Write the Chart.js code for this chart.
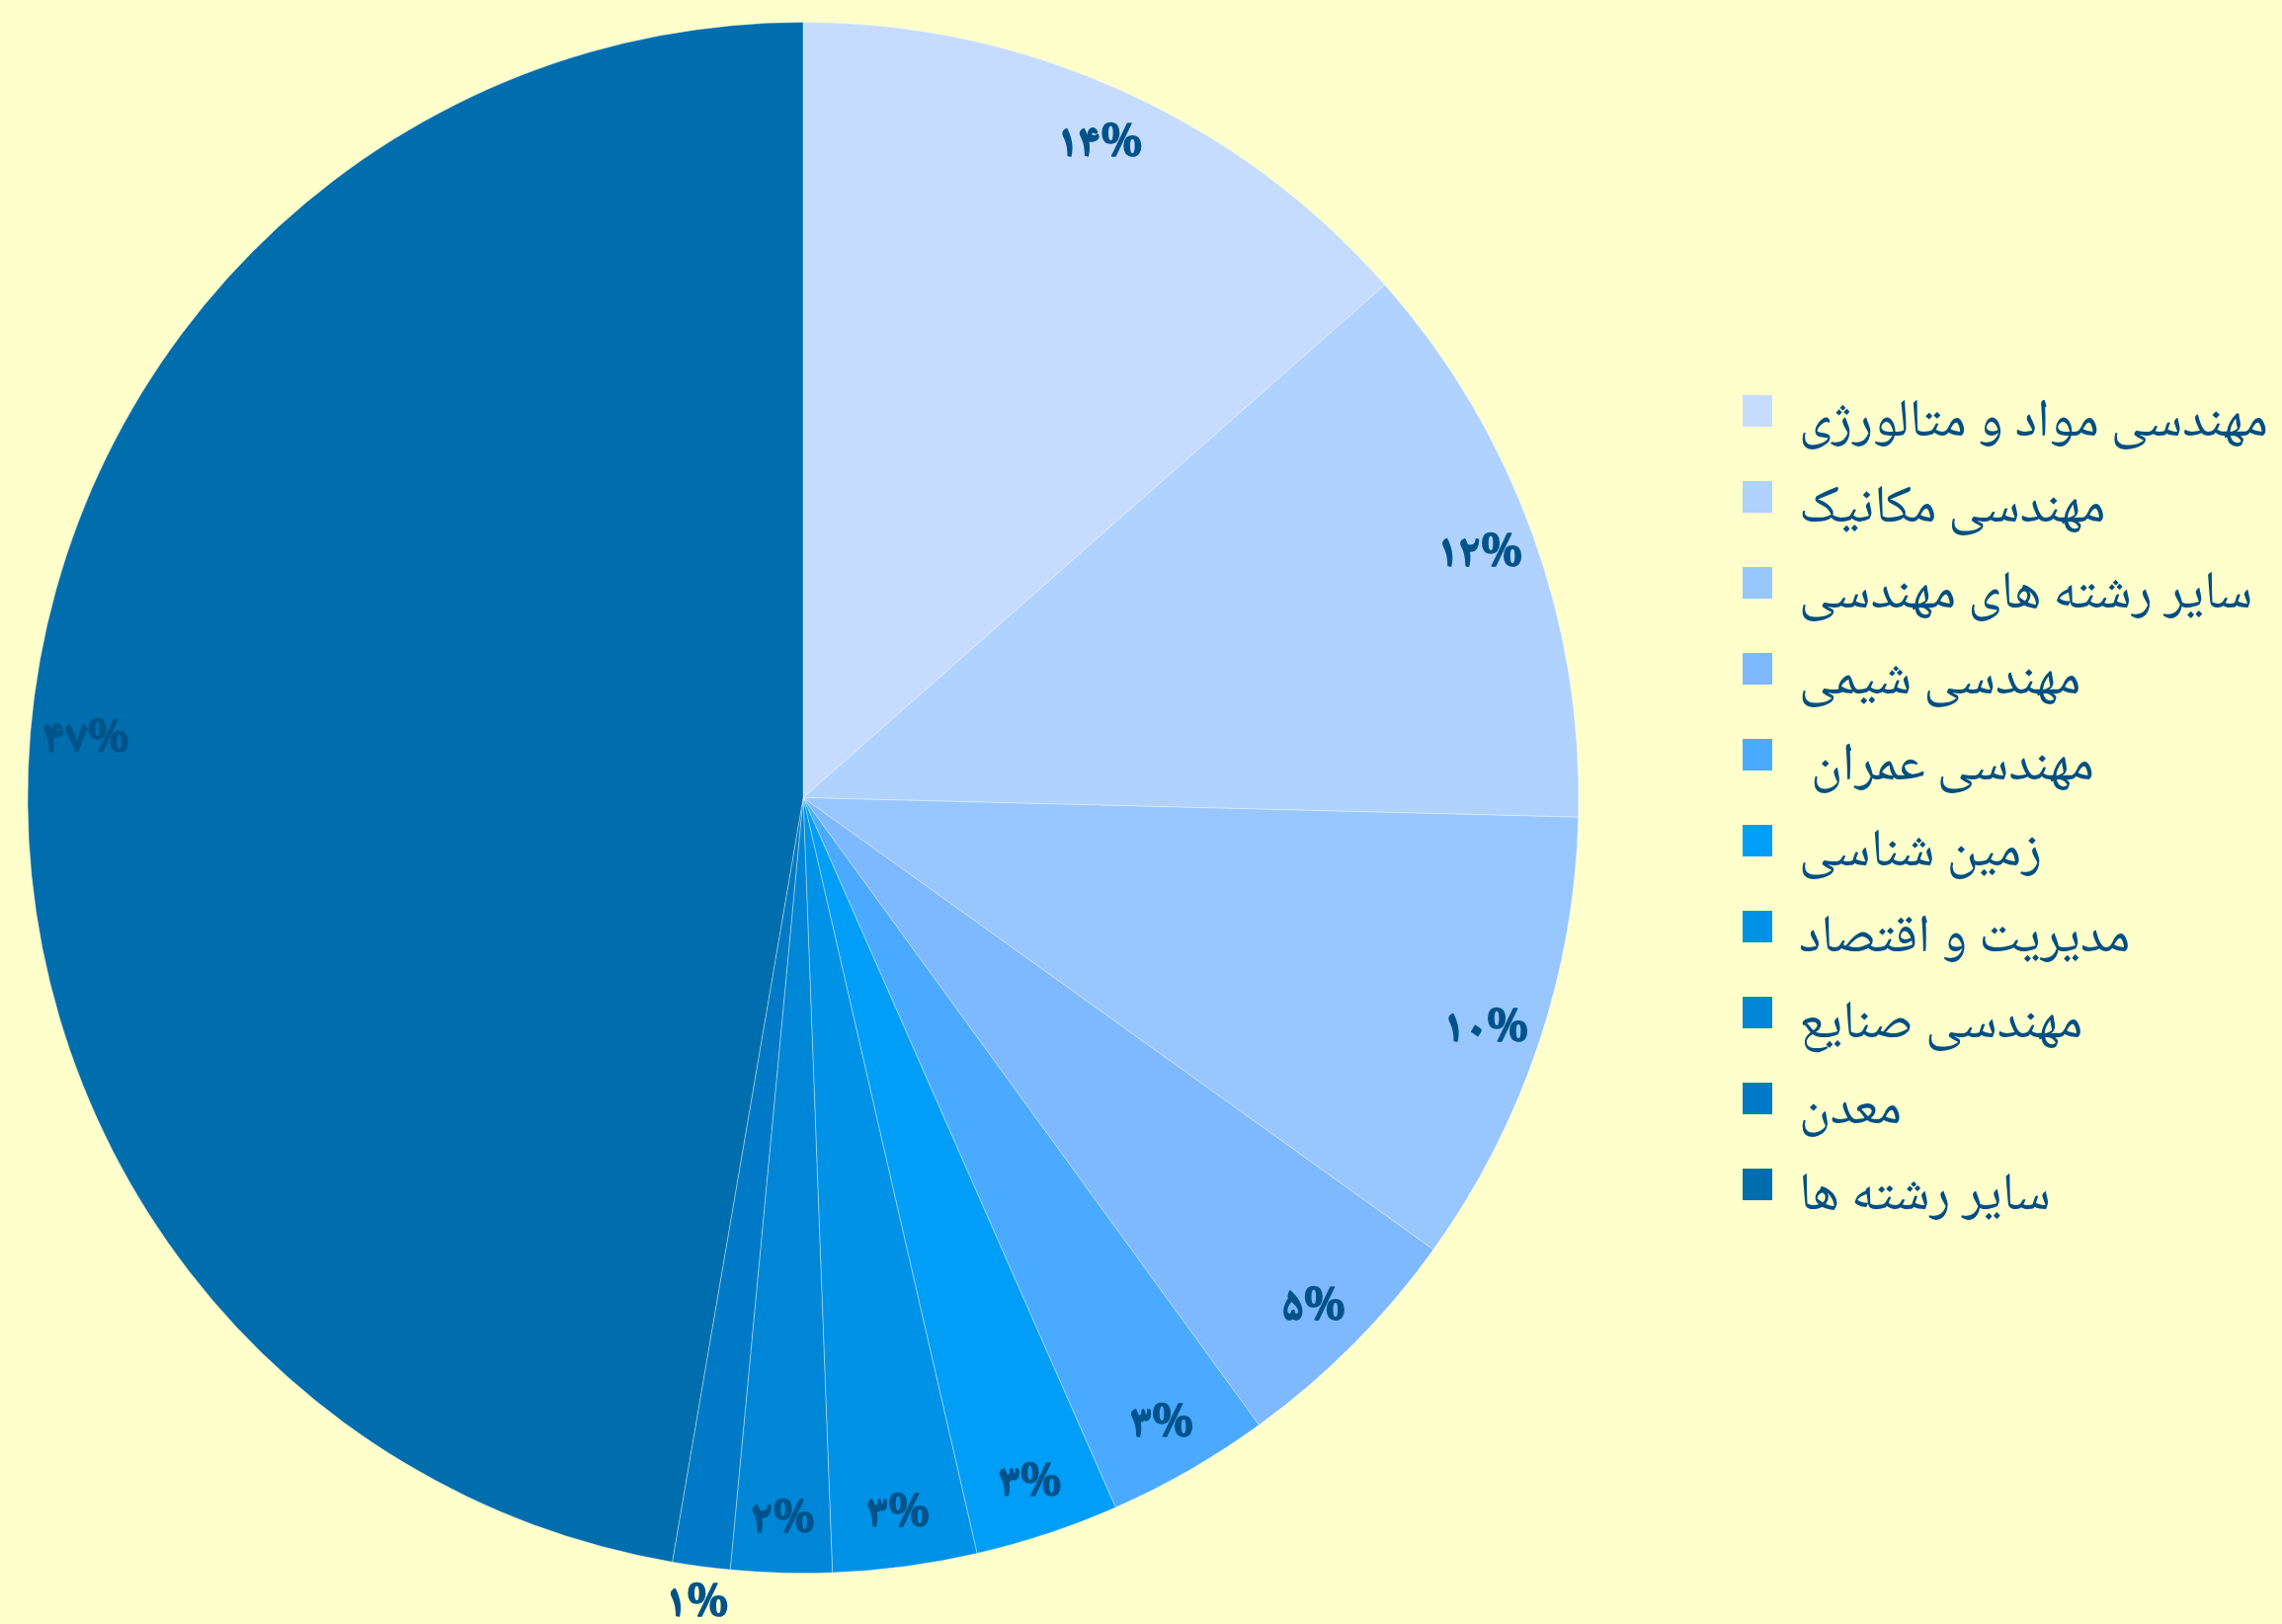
<!DOCTYPE html>
<html>
<head>
<meta charset="utf-8">
<script src="https://cdn.jsdelivr.net/npm/chart.js@4/dist/chart.umd.min.js"></script>
<style>
  html, body { margin: 0; padding: 0; background: #FFFFCC; overflow: hidden; }
  #outer { width: 2310px; height: 1644px; position: relative; overflow: hidden; }
  #wrap { position: absolute; top: 0; height: 1644px; }
</style>
</head>
<body>
<div id="outer"><div id="wrap"><canvas id="c"></canvas></div></div>
<script>
// ---- data ----
const categories = [
  "مهندسی مواد و متالورژی",
  "مهندسی مکانیک",
  "سایر رشته های مهندسی",
  "مهندسی شیمی",
  " مهندسی عمران",
  "زمین شناسی",
  "مدیریت و اقتصاد",
  "مهندسی صنایع",
  "معدن",
  "سایر رشته ها"
];
const shares = [13.5, 11.9, 9.5, 5.1, 3.4, 3.0, 3.0, 2.1, 1.2, 47.3];
const sliceColors = [
  "#C6DCFF", "#B0D2FF", "#98C6FF", "#7EB8FF", "#4AAAFF",
  "#009EF6", "#0092E6", "#0086D6", "#007AC6", "#006DAD"
];

// ---- styling / layout ----
const FONT = "'Noto Naskh Arabic','Noto Sans Arabic','DejaVu Sans',sans-serif";
const LEGEND_SIZE = 54;
const LEGEND_PAD = 33;
const BOX_W = 30, BOX_H = 32, BOX_RAISE = 18;
const TEXT_COLOR = '#004F82';
const persianDigits = "۰۱۲۳۴۵۶۷۸۹";
const toPersian = n => String(n).replace(/[0-9]/g, d => persianDigits[d]);

const mctx = document.createElement('canvas').getContext('2d');
mctx.font = `normal ${LEGEND_SIZE}px ${FONT}`;
const maxText = Math.max(...categories.map(t => mctx.measureText(t).width));
const legendLeftPage = 1764 - LEGEND_PAD;
const centerXPage = 813;
const shift = legendLeftPage - 2 * centerXPage;
const canvasW = 2310 + shift;
const legendWidth = LEGEND_PAD + BOX_W + LEGEND_SIZE / 2 + maxText + 10;
const padRight = canvasW - (legendLeftPage + shift) - legendWidth;
const wrap = document.getElementById('wrap');
wrap.style.left = (-shift) + 'px';
wrap.style.width = canvasW + 'px';

// legend squares, drawn a little above the text middle
const boxImages = sliceColors.map(col => {
  const cv = document.createElement('canvas');
  cv.width = BOX_W;
  cv.height = 2 * (BOX_H / 2 + BOX_RAISE);
  const g = cv.getContext('2d');
  g.fillStyle = col;
  g.fillRect(0, 0, BOX_W, BOX_H);
  return cv;
});

const sliceLabels = {
  id: 'sliceLabels',
  afterDatasetsDraw(chart) {
    const ctx = chart.ctx;
    const meta = chart.getDatasetMeta(0);
    const data = chart.data.datasets[0].data;
    ctx.save();
    ctx.font = `bold 46px ${FONT}`;
    ctx.fillStyle = '#00538A';
    ctx.strokeStyle = '#00538A';
    ctx.lineWidth = 1.5;
    ctx.lineJoin = 'round';
    ctx.textAlign = 'center';
    ctx.textBaseline = 'middle';
    meta.data.forEach((arc, i) => {
      const p = arc.getProps(['x', 'y', 'startAngle', 'endAngle', 'outerRadius'], true);
      const mid = (p.startAngle + p.endAngle) / 2;
      const f = data[i] < 1.5 ? 1.045 : 0.928;
      const r = p.outerRadius * f;
      const t = toPersian(Math.round(data[i])) + '%';
      const x = p.x + Math.cos(mid) * r, y = p.y + Math.sin(mid) * r + 9;
      ctx.strokeText(t, x, y);
      ctx.fillText(t, x, y);
    });
    ctx.restore();
  }
};

new Chart(document.getElementById('c'), {
  type: 'pie',
  data: {
    labels: categories,
    datasets: [{
      data: shares,
      backgroundColor: sliceColors,
      borderColor: 'rgba(255,255,255,0.35)',
      borderWidth: 1
    }]
  },
  options: {
    responsive: true,
    maintainAspectRatio: false,
    animation: false,
    devicePixelRatio: 1,
    layout: { padding: { left: 0, right: padRight, top: 22, bottom: 51 } },
    plugins: {
      tooltip: { enabled: false },
      legend: {
        position: 'right',
        align: 'center',
        title: {
          display: true,
          text: ' ',
          font: { size: 12, lineHeight: 1 },
          padding: { top: 12, bottom: 12 }
        },
        labels: {
          boxWidth: BOX_W,
          boxHeight: BOX_H,
          padding: LEGEND_PAD,
          usePointStyle: true,
          color: TEXT_COLOR,
          font: { family: FONT, size: LEGEND_SIZE },
          generateLabels(chart) {
            return chart.data.labels.map((t, i) => ({
              text: t,
              fillStyle: sliceColors[i],
              strokeStyle: sliceColors[i],
              lineWidth: 0,
              pointStyle: boxImages[i],
              fontColor: TEXT_COLOR,
              hidden: false,
              index: i
            }));
          }
        }
      }
    }
  },
  plugins: [sliceLabels]
});
</script>
</body>
</html>
